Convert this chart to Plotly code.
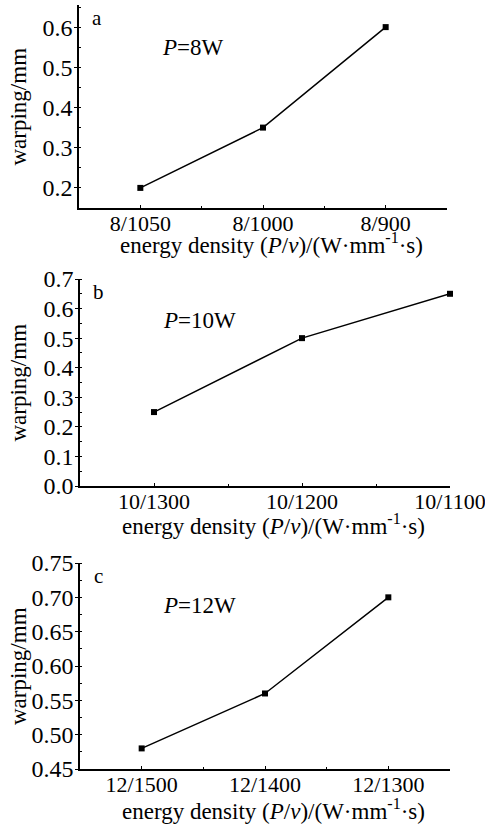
import plotly.graph_objects as go

W, H = 485, 826

cats_a = ["8/1050", "8/1000", "8/900"]
vals_a = [0.20, 0.35, 0.60]
cats_b = ["10/1300", "10/1200", "10/1100"]
vals_b = [0.25, 0.50, 0.65]
cats_c = ["12/1500", "12/1400", "12/1300"]
vals_c = [0.48, 0.56, 0.70]

yticks_a = [0.2, 0.3, 0.4, 0.5, 0.6]
yticks_b = [0.0, 0.1, 0.2, 0.3, 0.4, 0.5, 0.6, 0.7]
yticks_c = [0.45, 0.50, 0.55, 0.60, 0.65, 0.70, 0.75]

panels = [
    dict(cats=cats_a, vals=vals_a, yt=yticks_a, ytxt=[f"{v:.1f}" for v in yticks_a],
         yr=[0.15, 0.655], xr=[-0.5, 2.5], px=(79, 447), py=(5, 208), letter="a", p="8W",
         ydtick=0.05, toff=35),
    dict(cats=cats_b, vals=vals_b, yt=yticks_b, ytxt=[f"{v:.1f}" for v in yticks_b],
         yr=[0.0, 0.7], xr=[-0.5, 2.0], px=(80, 450), py=(279, 486), letter="b", p="10W",
         ydtick=0.05, toff=38),
    dict(cats=cats_c, vals=vals_c, yt=yticks_c, ytxt=[f"{v:.2f}" for v in yticks_c],
         yr=[0.45, 0.75], xr=[-0.5, 2.5], px=(80, 450), py=(563, 769), letter="c", p="12W",
         ydtick=0.025, toff=40),
]

FONT = "Liberation Serif, Times New Roman, serif"
fig = go.Figure()
layout = dict(width=W, height=H, margin=dict(l=0, r=0, t=0, b=0, autoexpand=False),
              paper_bgcolor="white", plot_bgcolor="white", showlegend=False,
              font=dict(family=FONT, color="black"))
annotations = []

for i, pnl in enumerate(panels):
    n = i + 1
    xa = "x" if n == 1 else f"x{n}"
    ya = "y" if n == 1 else f"y{n}"
    fig.add_trace(go.Scatter(
        x=list(range(len(pnl["cats"]))), y=pnl["vals"], xaxis=xa, yaxis=ya,
        mode="lines+markers", line=dict(color="black", width=1.5),
        marker=dict(symbol="square", size=6, color="black"), cliponaxis=False))
    x0, x1 = pnl["px"]
    y0, y1 = pnl["py"]
    xkey = "xaxis" if n == 1 else f"xaxis{n}"
    ykey = "yaxis" if n == 1 else f"yaxis{n}"
    layout[xkey] = dict(
        domain=[x0 / W, x1 / W], anchor=ya, range=pnl["xr"], automargin=False,
        tickmode="array", tickvals=list(range(len(pnl["cats"]))), ticktext=pnl["cats"],
        showline=True, linecolor="black", linewidth=1.5, showgrid=False, zeroline=False,
        ticks="inside", ticklen=3, tickcolor="black", ticklabelstandoff=-5,
        ticklabeloverflow="allow",
        minor=dict(tickmode="array", tickvals=[-0.5, 0.5, 1.5, 2.5], ticks="inside", ticklen=2, tickcolor="black"),
        tickfont=dict(size=22, family=FONT), fixedrange=True)
    layout[ykey] = dict(
        domain=[1 - y1 / H, 1 - y0 / H], anchor=xa, range=pnl["yr"], automargin=False,
        tickmode="array", tickvals=pnl["yt"], ticktext=pnl["ytxt"],
        showline=True, linecolor="black", linewidth=1.5, showgrid=False, zeroline=False,
        ticks="outside", ticklen=3, tickcolor="black", ticklabelstandoff=-3,
        ticklabeloverflow="allow",
        minor=dict(dtick=pnl["ydtick"], ticks="inside", ticklen=2, tickcolor="black"),
        tickfont=dict(size=24, family=FONT), fixedrange=True)
    # x title
    annotations.append(dict(
        text="energy density (<i>P</i>/<i>v</i>)/(W·mm<sup>-1</sup>·s)",
        xref="paper", yref="paper", x=((x0 + x1) / 2 + 8) / W, y=1 - (y1 + pnl["toff"]) / H,
        xanchor="center", yanchor="middle", showarrow=False, font=dict(size=23, family=FONT)))
    # y title
    annotations.append(dict(
        text="warping/mm", textangle=-90,
        xref="paper", yref="paper", x=18 / W, y=1 - ((y0 + y1) / 2) / H,
        xanchor="center", yanchor="middle", showarrow=False, font=dict(size=23, family=FONT)))
    # letter
    annotations.append(dict(
        text=pnl["letter"], xref="paper", yref="paper", x=(x0 + 18) / W, y=1 - (y0 + 13) / H,
        xanchor="center", yanchor="middle", showarrow=False, font=dict(size=21, family=FONT)))
    # power label
    annotations.append(dict(
        text=f"<i>P</i>={pnl['p']}", xref="paper", yref="paper", x=(x0 + 81) / W, y=1 - (y0 + 42) / H,
        xanchor="left", yanchor="middle", showarrow=False, font=dict(size=23, family=FONT)))

layout["annotations"] = annotations
fig.update_layout(**layout)
fig.write_html("out.html", config={"displayModeBar": False},
               post_script="document.body.style.margin='0';document.body.style.overflow='hidden';")
